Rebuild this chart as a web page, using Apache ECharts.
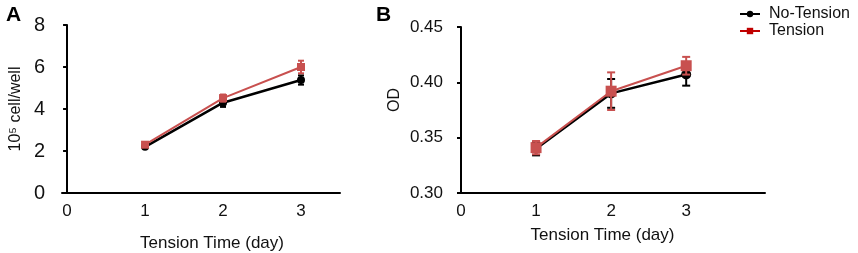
<!DOCTYPE html>
<html>
<head>
<meta charset="utf-8">
<title>tension</title>
<style>
  body { margin: 0; background: #fff; }
</style>
</head>
<body>
<div id="main" style="width: 858px;height:253px;"></div>
<script src="https://cdn.jsdelivr.net/npm/echarts@6/dist/echarts.min.js"></script>
<script>
var days = [1, 2, 3];
var xTickLabels = [0, 1, 2, 3];

// panel A: 10^5 cell/well
var cellNoTension = [2.2, 4.3, 5.38];
var cellNoTensionErr = [0.06, 0.2, 0.22];
var cellTension = [2.3, 4.52, 6.0];
var cellTensionErr = [0.08, 0.17, 0.3];

// panel B: OD
var odNoTension = [0.340, 0.390, 0.407];
var odNoTensionErr = [0.006, 0.013, 0.010];
var odTension = [0.341, 0.392, 0.415];
var odTensionErr = [0.006, 0.017, 0.008];

var font = 'Liberation Sans, Arial, sans-serif';
var black = '#000000';
var red = '#c8504f';

function pts(vals) {
    return days.map(function (d, i) { return [d, vals[i]]; });
}
function errPts(vals, errs) {
    return days.map(function (d, i) { return [d, vals[i], errs[i]]; });
}

function errorSeries(idx, vals, errs, color, cap, z) {
    return {
        type: 'custom',
        xAxisIndex: idx,
        yAxisIndex: idx,
        z: z,
        data: errPts(vals, errs),
        renderItem: function (params, api) {
            var x = api.value(0), y = api.value(1), e = api.value(2);
            var hi = api.coord([x, y + e]);
            var lo = api.coord([x, y - e]);
            var st = { stroke: color, lineWidth: 2 };
            return {
                type: 'group',
                children: [
                    { type: 'line', shape: { x1: hi[0], y1: hi[1], x2: lo[0], y2: lo[1] }, style: st },
                    { type: 'line', shape: { x1: hi[0] - cap, y1: hi[1], x2: hi[0] + cap, y2: hi[1] }, style: st },
                    { type: 'line', shape: { x1: lo[0] - cap, y1: lo[1], x2: lo[0] + cap, y2: lo[1] }, style: st }
                ]
            };
        }
    };
}

function xAxis(idx, min, max, gap, pad) {
    return {
        type: 'value',
        gridIndex: idx,
        min: min,
        max: max,
        name: 'Tension Time (day)',
        nameLocation: 'middle',
        nameGap: gap,
        nameTextStyle: { fontFamily: font, fontSize: 17, color: '#111', padding: pad },
        axisLine: { onZero: false, lineStyle: { color: '#000', width: 2 } },
        axisTick: { show: false },
        splitLine: { show: false },
        axisLabel: {
            customValues: xTickLabels,
            fontFamily: font, fontSize: 17, color: '#111', margin: 10
        }
    };
}

var myChart = echarts.init(document.getElementById('main'));

var option = {
    backgroundColor: '#fff',
    animation: false,
    title: [
        { text: 'A', left: 1, top: 0, textStyle: { fontFamily: font, fontSize: 21, fontWeight: 'bold', color: '#000' } },
        { text: 'B', left: 371, top: 0, textStyle: { fontFamily: font, fontSize: 21, fontWeight: 'bold', color: '#000' } }
    ],
    legend: {
        left: 734,
        top: 1,
        orient: 'vertical',
        itemWidth: 20,
        itemHeight: 8,
        itemGap: 1,
        textStyle: { fontFamily: font, fontSize: 16, color: '#111', padding: [0, 0, 0, 4] },
        data: [
            { name: 'No-Tension', itemStyle: { color: black }, lineStyle: { color: black } },
            { name: 'Tension', itemStyle: { color: '#c00000' }, lineStyle: { color: '#c00000' } }
        ]
    },
    grid: [
        { left: 62, top: 25, width: 278, height: 168, outerBoundsMode: 'none' },
        { left: 458, top: 27, width: 307, height: 166, outerBoundsMode: 'none' }
    ],
    xAxis: [
        xAxis(0, -0.065, 3.5, 42, [0, 0, 0, 22]),
        xAxis(1, -0.04, 4.05, 34, [0, 18, 0, 0])
    ],
    yAxis: [{
        type: 'value',
        gridIndex: 0,
        min: 0,
        max: 8,
        interval: 2,
        name: '10⁵ cell/well',
        nameLocation: 'middle',
        nameGap: 38,
        nameTextStyle: { fontFamily: font, fontSize: 16, color: '#111' },
        axisLine: { show: true, lineStyle: { color: '#000', width: 2 } },
        axisTick: { show: true, length: 4, lineStyle: { width: 2 } },
        splitLine: { show: false },
        axisLabel: { fontFamily: font, fontSize: 20, color: '#111', margin: 17 }
    }, {
        type: 'value',
        gridIndex: 1,
        min: 0.30,
        max: 0.45,
        interval: 0.05,
        name: 'OD',
        nameLocation: 'middle',
        nameGap: 55,
        nameTextStyle: { fontFamily: font, fontSize: 16, color: '#111', padding: [0, 0, 0, 20] },
        axisLine: { show: true, lineStyle: { color: '#000', width: 2 } },
        axisTick: { show: true, length: 4, lineStyle: { width: 2 } },
        splitLine: { show: false },
        axisLabel: {
            fontFamily: font, fontSize: 17, color: '#111', margin: 15,
            formatter: function (v) { return v.toFixed(2); }
        }
    }],
    series: [
        errorSeries(0, cellNoTension, cellNoTensionErr, black, 3, 2),
        {
            name: 'No-Tension', type: 'line', xAxisIndex: 0, yAxisIndex: 0, z: 3,
            data: pts(cellNoTension), symbol: 'circle', symbolSize: 8,
            itemStyle: { color: black }, lineStyle: { color: black, width: 2.5 }
        },
        errorSeries(0, cellTension, cellTensionErr, red, 3, 4),
        {
            name: 'Tension', type: 'line', xAxisIndex: 0, yAxisIndex: 0, z: 5,
            data: pts(cellTension), symbol: 'rect', symbolSize: 8,
            itemStyle: { color: red }, lineStyle: { color: red, width: 2 }
        },
        errorSeries(1, odNoTension, odNoTensionErr, black, 4, 2),
        {
            name: 'No-Tension', type: 'line', xAxisIndex: 1, yAxisIndex: 1, z: 3,
            data: pts(odNoTension), symbol: 'circle', symbolSize: 10,
            itemStyle: { color: black }, lineStyle: { color: black, width: 2.5 }
        },
        errorSeries(1, odTension, odTensionErr, red, 4, 4),
        {
            name: 'Tension', type: 'line', xAxisIndex: 1, yAxisIndex: 1, z: 5,
            data: pts(odTension), symbol: 'rect', symbolSize: 11,
            itemStyle: { color: red }, lineStyle: { color: red, width: 2 }
        }
    ]
};

myChart.setOption(option);
</script>
</body>
</html>
